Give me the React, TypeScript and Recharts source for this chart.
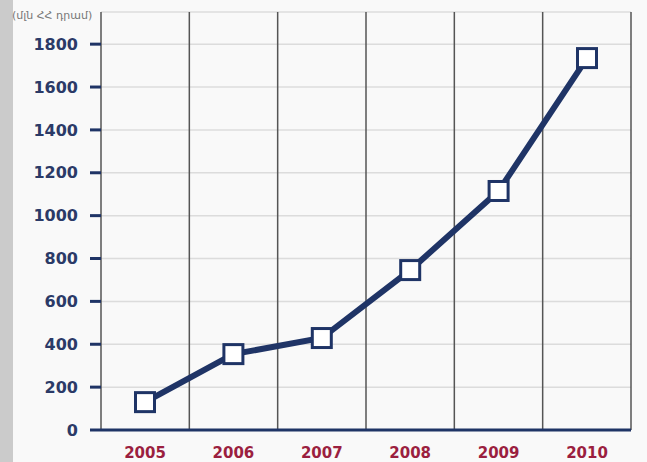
import React from 'react';
import { LineChart, Line, XAxis, YAxis, CartesianGrid } from 'recharts';

// values in million AMD
const years = ['2005', '2006', '2007', '2008', '2009', '2010'];
const amounts = [130, 354, 429, 746, 1115, 1735];
const yTicks = [0, 200, 400, 600, 800, 1000, 1200, 1400, 1600, 1800];
const unitLabel = '(մլն ՀՀ դրամ)';

const navy = '#1f3466';
const red = '#9b1f3f';
const tickFont = '"DejaVu Sans", Verdana, sans-serif';

const data = years.map((year, i) => ({ year, amount: amounts[i] }));

// square white marker
const SquareDot = (props: any) => {
  const { cx, cy } = props;
  if (cx == null || cy == null) return null;
  const s = 19;
  return (
    <rect x={cx - s / 2} y={cy - s / 2} width={s} height={s}
      fill="#ffffff" stroke={navy} strokeWidth={3} />
  );
};

// vertical grid at category boundaries instead of centers
const boundaryLines = ({ offset }: any) => {
  const out: number[] = [];
  for (let i = 0; i <= years.length; i++) {
    out.push(offset.left + (offset.width * i) / years.length);
  }
  return out;
};

export default function App() {
  return (
    <div style={{ position: 'fixed', left: 0, top: 0, width: 647, height: 462, background: '#f9f9f9', overflow: 'hidden' }}>
      <div style={{ position: 'absolute', left: 0, top: 0, width: 13, height: 462, background: '#cbcbcb' }} />
      <div style={{ position: 'absolute', left: 12, top: 9, fontFamily: '"DejaVu Sans", sans-serif', fontSize: 11, color: '#777' }}>
        {unitLabel}
      </div>
      <LineChart width={647} height={462} data={data}
        margin={{ top: 12, right: 16, bottom: 0, left: 0 }}>
        <CartesianGrid vertical={false} stroke="#dcdcdc" strokeWidth={1.5} />
        <CartesianGrid horizontal={false} stroke="#555" strokeWidth={1.5}
          verticalCoordinatesGenerator={boundaryLines} />
        <XAxis dataKey="year" height={32} interval={0}
          padding={{ left: 44, right: 44 }}
          axisLine={{ stroke: navy, strokeWidth: 3 }} tickLine={false}
          tick={{ fill: red, fontSize: 15, fontWeight: 'bold', fontFamily: tickFont }}
          tickMargin={11} />
        <YAxis width={101} domain={[0, 1950]} ticks={yTicks} interval={0}
          axisLine={false} tickSize={11} tickMargin={12}
          tickLine={{ stroke: navy, strokeWidth: 3 }}
          tick={{ fill: '#2b3a67', fontSize: 16, fontWeight: 'bold', fontFamily: tickFont }} />
        <Line type="linear" dataKey="amount" stroke={navy} strokeWidth={6}
          dot={<SquareDot />} activeDot={false} isAnimationActive={false} />
      </LineChart>
    </div>
  );
}
